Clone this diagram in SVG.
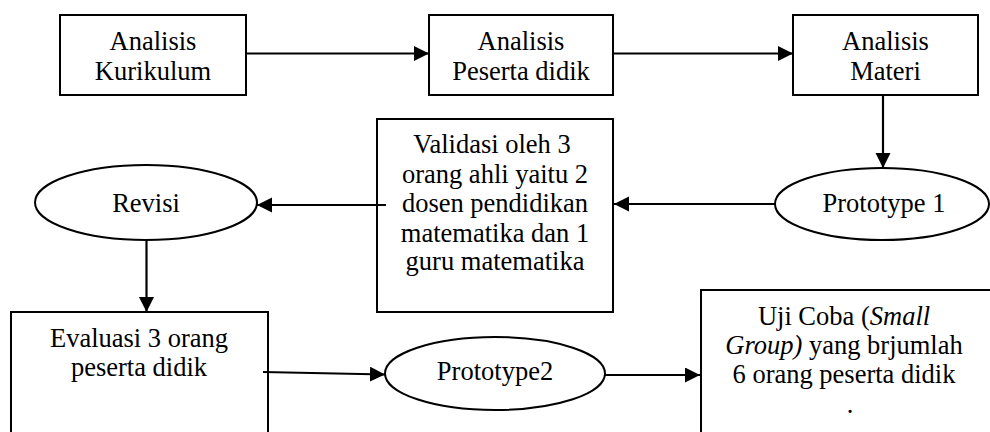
<svg xmlns="http://www.w3.org/2000/svg" width="990" height="432" viewBox="0 0 990 432">
<style>
.box{fill:#fff;stroke:#000;stroke-width:2}
.ell{fill:#fff;stroke:#000;stroke-width:2}
.t{font-family:"Liberation Serif","Times New Roman",serif;font-size:26.5px;fill:#000;text-anchor:middle}
.c{stroke:#000;stroke-width:2.2;fill:none;marker-end:url(#ah)}
</style>
<defs>
<marker id="ah" markerUnits="userSpaceOnUse" markerWidth="16" markerHeight="16" refX="15" refY="7.5" orient="auto">
<path d="M0,0 L15,7.5 L0,15 Z" fill="#000"/>
</marker>
</defs>
<rect width="990" height="432" fill="#fff"/>
<g id="n1">
<rect class="box" x="60" y="15" width="186" height="80"/>
<text class="t" x="153" y="50">Analisis</text>
<text class="t" x="153" y="80">Kurikulum</text>
</g>
<g id="n2">
<rect class="box" x="429" y="15" width="184" height="80"/>
<text class="t" x="521" y="50">Analisis</text>
<text class="t" x="521" y="80">Peserta didik</text>
</g>
<g id="n3">
<rect class="box" x="793" y="15" width="185" height="80"/>
<text class="t" x="885.5" y="50">Analisis</text>
<text class="t" x="885.5" y="80">Materi</text>
</g>
<g id="n4">
<ellipse class="ell" cx="882" cy="204" rx="107" ry="36"/>
<text class="t" x="884" y="212">Prototype 1</text>
</g>
<g id="n5">
<rect class="box" x="377" y="119" width="236" height="193"/>
<text class="t" x="492" y="153">Validasi oleh 3</text>
<text class="t" x="495" y="183">orang ahli yaitu 2</text>
<text class="t" x="495" y="212">dosen pendidikan</text>
<text class="t" x="495" y="242">matematika dan 1</text>
<text class="t" x="495" y="270">guru matematika</text>
</g>
<g id="n6">
<ellipse class="ell" cx="146" cy="202.5" rx="111" ry="37.5"/>
<text class="t" x="146" y="212">Revisi</text>
</g>
<g id="n7">
<rect class="box" x="11" y="312" width="257" height="140"/>
<text class="t" x="139" y="347">Evaluasi 3 orang</text>
<text class="t" x="139" y="376">peserta didik</text>
</g>
<g id="n8">
<ellipse class="ell" cx="495" cy="373.5" rx="110" ry="36.5"/>
<text class="t" x="495" y="380">Prototype2</text>
</g>
<g id="n9">
<rect class="box" x="701" y="290" width="310" height="160"/>
<text class="t" x="844" y="325">Uji Coba (<tspan font-style="italic">Small</tspan></text>
<text class="t" x="844" y="354"><tspan font-style="italic">Group)</tspan> yang brjumlah</text>
<text class="t" x="844" y="383">6 orang peserta didik</text>
<text class="t" x="850" y="413">.</text>
</g>
<g id="connectors">
<line class="c" x1="246" y1="53.5" x2="429" y2="53.5"/>
<line class="c" x1="613" y1="53.5" x2="793" y2="53.5"/>
<line class="c" x1="883" y1="95" x2="883" y2="168"/>
<line class="c" x1="775" y1="204" x2="614" y2="204"/>
<line class="c" x1="386" y1="205" x2="257" y2="205"/>
<line class="c" x1="146.5" y1="240" x2="146.5" y2="312"/>
<line class="c" x1="263" y1="372" x2="385" y2="374.5"/>
<line class="c" x1="605" y1="375" x2="700" y2="375"/>
</g>
</svg>
